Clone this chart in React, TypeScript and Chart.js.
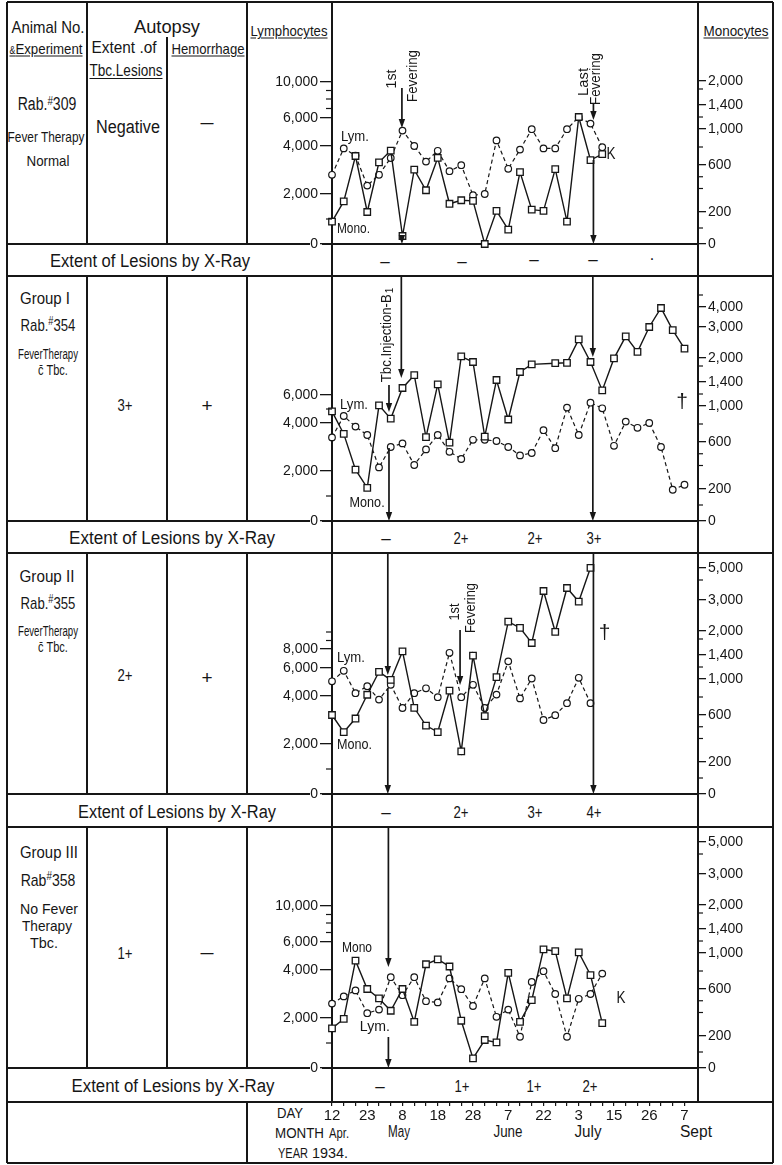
import React, { useEffect, useRef } from "react";
import { Chart, registerables, LinearScale } from "chart.js";

Chart.register(...registerables);

const FONT = '"Liberation Sans", Arial, sans-serif';
const INK = "#161616";

// ---------------- data ----------------
const DAY_LABELS = ["12", "23", "8", "18", "28", "7", "22", "3", "15", "26", "7"];

// Rab. #309 (panel 1)
const P1_LYM = [2800, 3900, 3600, 2350, 2800, 3500, 5100, 4000, 3350, 3800, 2950, 3200, 1950, 2000, 4400, 3050, 3850, 5200, 3900, 3900, 5200, 6100, 5600, 3950];
const P1_MONO = [140, 290, 700, 200, 630, 760, 50, 560, 385, 680, 270, 300, 295, 0, 210, 90, 540, 220, 210, 565, 140, 1200, 655, 720];

// Rab. #354 (panel 2)
const P2_LYM = [3400, 4500, 3850, 3500, 2150, 3000, 3150, 2250, 2900, 3500, 2800, 2500, 3300, 3300, 3250, 3000, 2650, 2750, 3700, 2950, 5100, 3500, 5450, 5050, 3050, 4100, 3800, 4000, 3000, 1250, 1450];
const P2_MONO = [940, 690, 365, 210, 1010, 860, 1300, 1570, 655, 1360, 595, 2050, 1900, 660, 1450, 850, 1650, 1840, null, 1870, 1880, 2600, 1900, 1260, 1990, 2700, 2200, 3000, 3950, 2900, 2300];

// Rab. #355 (panel 3)
const P3_LYM = [5050, 5800, 4200, 4700, 3850, 4800, 3500, 4200, 4550, 3950, 7600, 3950, 4800, 3500, 4100, 6700, 3900, 5250, 3000, 3200, 3700, 5300, 3700];
const P3_MONO = [600, 455, 570, 825, 1120, 990, 1490, 680, 510, 455, 870, 290, 1390, 590, 1030, 2300, 2100, 1700, 3450, 1980, 3600, 2950, 5050];

// Rab. #358 (panel 4)
const P4_LYM = [2600, 2900, 3150, 2200, 2350, 3700, 2950, 3700, 2700, 2650, 3650, 3200, 2500, 3650, 2050, 2350, 1250, 3500, 3950, 3000, 1250, 2800, 3000, 3850];
const P4_MONO = [265, 345, 915, 600, 520, 415, 600, 320, 875, 930, 850, 330, 60, 175, 160, 780, 320, 505, 1060, 1030, 520, 1010, 755, 310];

// tick values
const LYM_TICKS_A = [0, 2000, 4000, 6000, 10000];
const LYM_TICKS_B = [0, 2000, 4000, 6000];
const LYM_TICKS_C = [0, 2000, 4000, 6000, 8000];
const LYM_MINOR_A = [1000, 7000, 8000, 9000];
const LYM_MINOR_B = [1000, 5000];
const LYM_MINOR_C = [1000, 9000, 10000];
const MONO_TICKS_A = [0, 200, 600, 1000, 1400, 2000];
const MONO_TICKS_B = [0, 200, 600, 1000, 1400, 2000, 3000, 4000];
const MONO_TICKS_C = [0, 200, 600, 1000, 1400, 2000, 3000, 5000];
const MONO_MINOR_A = [100, 400, 500, 800, 1200, 1800];
const MONO_MINOR_B = [100, 400, 500, 800, 1200, 1800, 5000];
const MONO_MINOR_C = [100, 400, 500, 800, 1200, 1800, 4000];

// non-linear axis construction: value -> height (px) above the zero line
const LYM_ANCHORS: [number, number][] = [[0, 0], [2000, 50], [4000, 98], [6000, 126], [8000, 145], [10000, 162], [20000, 242]];
const MONO_ANCHORS: [number, number][] = [[0, 0], [200, 32], [600, 79], [1000, 115], [1400, 139], [2000, 163], [3000, 194], [4000, 214], [5000, 226], [10000, 242]];

function interp(t: [number, number][], v: number) {
  for (let i = 1; i < t.length; i++) {
    if (v <= t[i][0] || i === t.length - 1) {
      const [v0, p0] = t[i - 1];
      const [v1, p1] = t[i];
      return p0 + ((v - v0) * (p1 - p0)) / (v1 - v0);
    }
  }
  return 0;
}
function invert(t: [number, number][], p: number) {
  for (let i = 1; i < t.length; i++) {
    if (p <= t[i][1] || i === t.length - 1) {
      const [v0, p0] = t[i - 1];
      const [v1, p1] = t[i];
      return v0 + ((p - p0) * (v1 - v0)) / (p1 - p0);
    }
  }
  return 0;
}

function makeScale(id: string, table: [number, number][]) {
  class S extends (LinearScale as any) {
    static id = id;
    static defaults = (LinearScale as any).defaults;
    getPixelForValue(value: any) {
      if (value === null || value === undefined || Number.isNaN(value)) return NaN;
      const z = (this as any).options.zeroOffset || 0;
      return (this as any).bottom - z - interp(table, value);
    }
    getValueForPixel(pixel: number) {
      const z = (this as any).options.zeroOffset || 0;
      return invert(table, (this as any).bottom - z - pixel);
    }
  }
  return S;
}
Chart.register(makeScale("lymScale", LYM_ANCHORS) as any, makeScale("monoScale", MONO_ANCHORS) as any);

// ---------------- panels ----------------
type Note = { k: "text" | "rot" | "arrow"; x: number; off?: number; from?: number; to?: number; t?: string; s?: number; w?: number; left?: boolean; sub?: string };
type Panel = {
  key: string; top: number; baseline: number; showX: boolean;
  lym: (number | null)[]; mono: (number | null)[];
  lymTicks: number[]; lymMinor: number[]; monoTicks: number[]; monoMinor: number[];
  notes: Note[];
};

const PANELS: Panel[] = [
  {
    key: "p1", top: 2, baseline: 244, showX: false, lym: P1_LYM, mono: P1_MONO,
    lymTicks: LYM_TICKS_A, lymMinor: LYM_MINOR_A, monoTicks: MONO_TICKS_A, monoMinor: MONO_MINOR_A,
    notes: [
      { k: "rot", x: 5.06, off: 165, t: "1st", s: 15, w: 19 },
      { k: "rot", x: 6.86, off: 168, t: "Fevering", s: 15, w: 52 },
      { k: "arrow", x: 5.95, from: 156, to: 116 },
      { k: "arrow", x: 5.95, from: 8, to: 0 },
      { k: "rot", x: 21.44, off: 162, t: "Last", s: 15, w: 28 },
      { k: "rot", x: 22.43, off: 165, t: "Fevering", s: 15, w: 52 },
      { k: "arrow", x: 22.25, from: 141, to: 124 },
      { k: "arrow", x: 22.25, from: 84, to: 0 },
      { k: "text", x: 0.76, off: 107, t: "Lym.", s: 15, w: 28, left: true },
      { k: "text", x: 0.42, off: 15, t: "Mono.", s: 15, w: 33, left: true },
      { k: "text", x: 23.75, off: 90, t: "K", s: 17, w: 9 },
    ],
  },
  {
    key: "p2", top: 276, baseline: 521, showX: false, lym: P2_LYM, mono: P2_MONO,
    lymTicks: LYM_TICKS_B, lymMinor: LYM_MINOR_B, monoTicks: MONO_TICKS_B, monoMinor: MONO_MINOR_B,
    notes: [
      { k: "rot", x: 4.63, off: 186, t: "Tbc.Injection-B", sub: "1", s: 15, w: 88 },
      { k: "arrow", x: 5.9, from: 245, to: 143 },
      { k: "arrow", x: 4.85, from: 136, to: 109 },
      { k: "arrow", x: 4.85, from: 73, to: 0 },
      { k: "arrow", x: 22.2, from: 245, to: 164 },
      { k: "arrow", x: 22.2, from: 116, to: 0 },
      { k: "text", x: 29.8, off: 119, t: "\u2020", s: 21 },
      { k: "text", x: 0.68, off: 116, t: "Lym.", s: 15, w: 28, left: true },
      { k: "text", x: 1.5, off: 18, t: "Mono.", s: 15, w: 35, left: true },
    ],
  },
  {
    key: "p3", top: 553, baseline: 794, showX: false, lym: P3_LYM, mono: P3_MONO,
    lymTicks: LYM_TICKS_C, lymMinor: LYM_MINOR_C, monoTicks: MONO_TICKS_C, monoMinor: MONO_MINOR_C,
    notes: [
      { k: "arrow", x: 4.75, from: 241, to: 119 },
      { k: "arrow", x: 4.75, from: 106, to: 0 },
      { k: "rot", x: 10.45, off: 182, t: "1st", s: 15, w: 17 },
      { k: "rot", x: 11.8, off: 186, t: "Fevering", s: 15, w: 50 },
      { k: "arrow", x: 10.9, from: 164, to: 109 },
      { k: "arrow", x: 22.25, from: 241, to: 0 },
      { k: "text", x: 23.2, off: 161, t: "\u2020", s: 21 },
      { k: "text", x: 0.42, off: 136, t: "Lym.", s: 15, w: 28, left: true },
      { k: "text", x: 0.42, off: 49, t: "Mono.", s: 15, w: 35, left: true },
    ],
  },
  {
    key: "p4", top: 827, baseline: 1068, showX: true, lym: P4_LYM, mono: P4_MONO,
    lymTicks: LYM_TICKS_A, lymMinor: LYM_MINOR_A, monoTicks: MONO_TICKS_C, monoMinor: MONO_MINOR_C,
    notes: [
      { k: "arrow", x: 4.8, from: 241, to: 101 },
      { k: "arrow", x: 4.8, from: 31, to: 0 },
      { k: "text", x: 0.85, off: 120, t: "Mono", s: 15, w: 30, left: true },
      { k: "text", x: 2.37, off: 41, t: "Lym.", s: 15, w: 30, left: true },
      { k: "text", x: 24.6, off: 70, t: "K", s: 17, w: 9 },
    ],
  },
];

const AXIS_BOTTOM = 1102; // y of the day axis (page px)
const X_AXIS_H = 24;
const PAD_B = 14;
const CANVAS_LEFT = 260;
const CANVAS_W = 522;
const X_MAX = 31.15;

function fmt(v: number) {
  return v.toLocaleString("en-US");
}

function notesPlugin(p: Panel) {
  return {
    id: "notes_" + p.key,
    afterDatasetsDraw(chart: any) {
      const ctx = chart.ctx as CanvasRenderingContext2D;
      const xs = chart.scales.x;
      const yL = chart.scales.yL;
      const yR = chart.scales.yR;
      const base = yL.getPixelForValue(0);
      ctx.save();
      ctx.strokeStyle = INK;
      ctx.fillStyle = INK;
      ctx.lineWidth = 1.2;
      for (const v of p.lymMinor) {
        const y = yL.getPixelForValue(v);
        ctx.beginPath(); ctx.moveTo(yL.right - 6, y); ctx.lineTo(yL.right, y); ctx.stroke();
      }
      for (const v of p.monoMinor) {
        const y = yR.getPixelForValue(v);
        ctx.beginPath(); ctx.moveTo(yR.left, y); ctx.lineTo(yR.left + 5, y); ctx.stroke();
      }
      for (const n of p.notes) {
        const x = xs.getPixelForValue(n.x);
        if (n.k === "arrow") {
          const y1 = base - (n.from as number);
          const y2 = base - (n.to as number);
          ctx.lineWidth = 1.7;
          ctx.beginPath(); ctx.moveTo(x, y1); ctx.lineTo(x, y2 - 6); ctx.stroke();
          ctx.beginPath(); ctx.moveTo(x - 3.2, y2 - 9); ctx.lineTo(x + 3.2, y2 - 9); ctx.lineTo(x, y2); ctx.closePath(); ctx.fill();
        } else {
          const y = base - (n.off as number);
          const txt = n.t as string;
          ctx.font = `${n.s}px ${FONT}`;
          ctx.textBaseline = "middle";
          const natural = ctx.measureText(txt).width;
          const sx = n.w ? n.w / natural : 1;
          const subW = n.sub ? ctx.measureText(n.sub).width * 0.65 + 1 : 0;
          const total = natural * sx + subW;
          ctx.save();
          ctx.translate(x, y);
          if (n.k === "rot") ctx.rotate(-Math.PI / 2);
          const start = n.left ? 0 : -total / 2;
          ctx.textAlign = "left";
          ctx.save();
          ctx.translate(start, 0);
          ctx.scale(sx, 1);
          ctx.fillText(txt, 0, 0);
          ctx.restore();
          if (n.sub) {
            ctx.font = `${Math.round((n.s as number) * 0.65)}px ${FONT}`;
            ctx.fillText(n.sub, start + natural * sx + 1, 4);
          }
          ctx.restore();
        }
      }
      ctx.restore();
    },
  };
}

function PanelChart({ p }: { p: Panel }) {
  const ref = useRef<HTMLCanvasElement>(null);
  const chartBottom = p.showX ? AXIS_BOTTOM : p.baseline;
  const canvasH = p.showX ? chartBottom - p.top + X_AXIS_H : chartBottom - p.top + PAD_B;
  const zero = chartBottom - p.baseline;
  useEffect(() => {
    const tickFont = { family: FONT, size: 14 };
    const yCommon = (ticks: number[]) => ({
      axis: "y",
      zeroOffset: zero,
      afterBuildTicks: (s: any) => { s.ticks = ticks.map((v) => ({ value: v })); },
      ticks: { callback: (v: any) => fmt(Number(v)), color: INK, font: tickFont, padding: 2, autoSkip: false },
      border: { display: false },
    });
    const xOpts: any = {
      type: "linear", axis: "x", position: "bottom", min: 0, max: X_MAX,
      display: p.showX,
      afterBuildTicks: (s: any) => { s.ticks = Array.from({ length: 31 }, (_, i) => ({ value: i })); },
      ticks: {
        autoSkip: false, maxRotation: 0, padding: 1, color: INK, font: { family: FONT, size: 15 },
        callback: (v: any) => (Number(v) % 3 === 0 ? DAY_LABELS[Number(v) / 3] : ""),
      },
      grid: { drawOnChartArea: false, drawTicks: true, tickLength: 4, color: INK, lineWidth: 1.2 },
      border: { display: false },
    };
    if (p.showX) xOpts.afterFit = (s: any) => { s.height = X_AXIS_H; };
    const chart = new Chart(ref.current as HTMLCanvasElement, {
      type: "line",
      data: {
        datasets: [
          {
            label: "Mono.",
            data: p.mono.map((v, i) => ({ x: i, y: v })),
            xAxisID: "x", yAxisID: "yR",
            borderColor: INK, borderWidth: 1.4,
            pointStyle: "rect", pointRadius: 4.6, pointBackgroundColor: "#fff",
            pointBorderColor: INK, pointBorderWidth: 1.3,
            spanGaps: true, clip: false, tension: 0, fill: false, order: 1,
          },
          {
            label: "Lym.",
            data: p.lym.map((v, i) => ({ x: i, y: v })),
            xAxisID: "x", yAxisID: "yL",
            borderColor: INK, borderWidth: 1.2, borderDash: [4, 3],
            pointStyle: "circle", pointRadius: 3.3, pointBackgroundColor: "#fff",
            pointBorderColor: INK, pointBorderWidth: 1.2,
            spanGaps: true, clip: false, tension: 0, fill: false, order: 2,
          },
        ],
      } as any,
      options: {
        animation: false,
        responsive: false,
        maintainAspectRatio: false,
        events: [],
        layout: { padding: { top: 0, left: 0, right: 0, bottom: p.showX ? 0 : PAD_B } },
        plugins: { legend: { display: false }, tooltip: { enabled: false } },
        scales: {
          x: xOpts,
          yL: {
            type: "lymScale", position: "left",
            ...yCommon(p.lymTicks),
            afterFit: (s: any) => { s.width = 72; },
            grid: { drawOnChartArea: false, drawTicks: true, tickLength: 12, color: INK, lineWidth: 1.3 },
          },
          yR: {
            type: "monoScale", position: "right",
            ...yCommon(p.monoTicks),
            afterFit: (s: any) => { s.width = CANVAS_W - (698 - CANVAS_LEFT); },
            grid: { drawOnChartArea: false, drawTicks: true, tickLength: 8, color: INK, lineWidth: 1.3 },
          },
        },
      } as any,
      plugins: [notesPlugin(p)],
    });
    return () => chart.destroy();
  }, []);
  return (
    <canvas
      ref={ref}
      width={CANVAS_W}
      height={canvasH}
      style={{ position: "absolute", left: CANVAS_LEFT, top: p.top, width: CANVAS_W, height: canvasH }}
    />
  );
}

// ---------------- table drawing ----------------
let mctx: CanvasRenderingContext2D | null = null;
function measure(text: string, size: number) {
  if (!mctx) mctx = document.createElement("canvas").getContext("2d");
  if (!mctx) return text.length * size * 0.5;
  mctx.font = `${size}px ${FONT}`;
  return mctx.measureText(text).width;
}

const LW = 1.7;
function HL({ x1, x2, y }: { x1: number; x2: number; y: number }) {
  return <div style={{ position: "absolute", left: x1, top: y - LW / 2, width: x2 - x1, height: LW, background: INK }} />;
}
function VL({ x, y1, y2 }: { x: number; y1: number; y2: number }) {
  return <div style={{ position: "absolute", left: x - LW / 2, top: y1, width: LW, height: y2 - y1, background: INK }} />;
}
function T({ x, y, s = 16, a = "c", u = false, w, m, children }: { x: number; y: number; s?: number; a?: string; u?: boolean; w?: number; m?: string; children: any }) {
  const tx = a === "c" ? "-50%" : a === "r" ? "-100%" : "0";
  const ms = m ?? (typeof children === "string" ? children : "");
  const sx = w && ms ? w / measure(ms, s) : 1;
  return (
    <div
      style={{
        position: "absolute", left: x, top: y,
        transform: `translate(${tx}, -50%) scaleX(${sx})`,
        transformOrigin: a === "c" ? "center" : a === "r" ? "right" : "left",
        fontSize: s, lineHeight: 1, whiteSpace: "nowrap",
        textDecoration: u ? "underline" : "none", textUnderlineOffset: 2,
      }}
    >
      {children}
    </div>
  );
}
const Sup = ({ children }: { children: any }) => <span style={{ fontSize: "0.7em", verticalAlign: "0.45em" }}>{children}</span>;

export default function App() {
  const rows = [
    { top: 2, base: 244, bot: 276 },
    { top: 276, base: 521, bot: 553 },
    { top: 553, base: 794, bot: 827 },
    { top: 827, base: 1068, bot: 1102 },
  ];
  return (
    <div
      style={{
        position: "absolute", left: 0, top: 0, width: 782, height: 1165, background: "#fff",
        fontFamily: FONT, color: INK, overflow: "hidden",
      }}
    >
      {/* outer frame */}
      <HL x1={7} x2={773} y={2} />
      <HL x1={7} x2={773} y={1163} />
      <VL x={7} y1={2} y2={1163} />
      <VL x={773} y1={2} y2={1163} />
      <VL x={332} y1={2} y2={AXIS_BOTTOM} />
      <VL x={698} y1={2} y2={AXIS_BOTTOM} />
      <VL x={247} y1={AXIS_BOTTOM} y2={1163} />
      {rows.map((r, i) => (
        <React.Fragment key={i}>
          <VL x={87} y1={r.top} y2={r.base} />
          <VL x={167} y1={i === 0 ? 37 : r.top} y2={r.base} />
          <VL x={247} y1={r.top} y2={r.base} />
          <HL x1={7} x2={310} y={r.base} />
          <HL x1={322} x2={698} y={r.base} />
          <HL x1={7} x2={773} y={r.bot} />
        </React.Fragment>
      ))}

      {/* header */}
      <T x={48} y={27} s={17} w={73}>Animal No.</T>
      <T x={46} y={48} s={15} w={76} u m="&Experiment"><span style={{ fontSize: 10 }}>&amp;</span>Experiment</T>
      <T x={167} y={27} s={18} w={66}>Autopsy</T>
      <T x={124} y={48} s={16} w={65}>Extent .of</T>
      <T x={126} y={71} s={16} w={73} u>Tbc.Lesions</T>
      <T x={208} y={48} s={15} w={73} u>Hemorrhage</T>
      <T x={289} y={30} s={15} w={77} u>Lymphocytes</T>
      <T x={736} y={30} s={15} w={65} u>Monocytes</T>

      {/* panel 1 */}
      <T x={47} y={104} s={18} w={61} m="Rab.#309">Rab.<Sup>#</Sup>309</T>
      <T x={46} y={136} s={15} w={77}>Fever Therapy</T>
      <T x={48} y={160} s={15} w={43}>Normal</T>
      <T x={128} y={127} s={18} w={64}>Negative</T>
      <T x={207} y={123} s={16} w={13}>—</T>

      {/* panel 2 */}
      <T x={45} y={298} s={17} w={50}>Group I</T>
      <T x={48} y={325} s={17} w={57} m="Rab.#354">Rab.<Sup>#</Sup>354</T>
      <T x={48} y={354} s={14} w={60}>FeverTherapy</T>
      <T x={53} y={370} s={14} w={30} m="c Tbc.">c̄ Tbc.</T>
      <T x={125} y={405} s={17} w={15}>3+</T>
      <T x={207} y={405} s={19}>+</T>

      {/* panel 3 */}
      <T x={47} y={576} s={17} w={55}>Group II</T>
      <T x={48} y={603} s={17} w={57} m="Rab.#355">Rab.<Sup>#</Sup>355</T>
      <T x={48} y={631} s={14} w={60}>FeverTherapy</T>
      <T x={53} y={647} s={14} w={30} m="c Tbc.">c̄ Tbc.</T>
      <T x={125} y={675} s={17} w={15}>2+</T>
      <T x={207} y={677} s={19}>+</T>

      {/* panel 4 */}
      <T x={49} y={852} s={17} w={58}>Group III</T>
      <T x={48} y={880} s={17} w={57} m="Rab#358">Rab<Sup>#</Sup>358</T>
      <T x={49} y={908} s={15} w={58}>No Fever</T>
      <T x={47} y={925} s={15} w={50}>Therapy</T>
      <T x={44} y={942} s={15} w={28}>Tbc.</T>
      <T x={125} y={953} s={17} w={15}>1+</T>
      <T x={207} y={953} s={16} w={13}>—</T>

      {/* X-ray rows */}
      <T x={150} y={261} s={18} w={200}>Extent of Lesions by X-Ray</T>
      <T x={172} y={538} s={18} w={206}>Extent of Lesions by X-Ray</T>
      <T x={177} y={812} s={18} w={198}>Extent of Lesions by X-Ray</T>
      <T x={173} y={1086} s={18} w={203}>Extent of Lesions by X-Ray</T>

      <T x={385} y={261} s={17}>–</T>
      <T x={462} y={261} s={17}>–</T>
      <T x={534} y={259} s={17}>–</T>
      <T x={593} y={259} s={17}>–</T>
      <T x={652} y={255} s={16}>.</T>

      <T x={386} y={538} s={17}>–</T>
      <T x={461} y={538} s={17} w={15}>2+</T>
      <T x={535} y={538} s={17} w={15}>2+</T>
      <T x={594} y={538} s={17} w={15}>3+</T>

      <T x={386} y={812} s={17}>–</T>
      <T x={461} y={812} s={17} w={15}>2+</T>
      <T x={535} y={812} s={17} w={15}>3+</T>
      <T x={594} y={812} s={17} w={15}>4+</T>

      <T x={380} y={1086} s={17}>–</T>
      <T x={462} y={1086} s={17} w={15}>1+</T>
      <T x={534} y={1086} s={17} w={15}>1+</T>
      <T x={590} y={1086} s={17} w={15}>2+</T>

      {/* bottom axis captions */}
      <T x={277} y={1112} s={15} a="l" w={26}>DAY</T>
      <T x={275} y={1132} s={15} a="l" w={49}>MONTH</T>
      <T x={329} y={1132} s={15} a="l" w={20}>Apr.</T>
      <T x={278} y={1152} s={15} a="l" w={30}>YEAR</T>
      <T x={312} y={1152} s={15} a="l" w={36}>1934.</T>
      <T x={399} y={1132} s={16} w={22}>May</T>
      <T x={508} y={1132} s={16} w={29}>June</T>
      <T x={588} y={1132} s={16} w={27}>July</T>
      <T x={696} y={1132} s={16} w={32}>Sept</T>

      {PANELS.map((p) => (
        <PanelChart key={p.key} p={p} />
      ))}
    </div>
  );
}
